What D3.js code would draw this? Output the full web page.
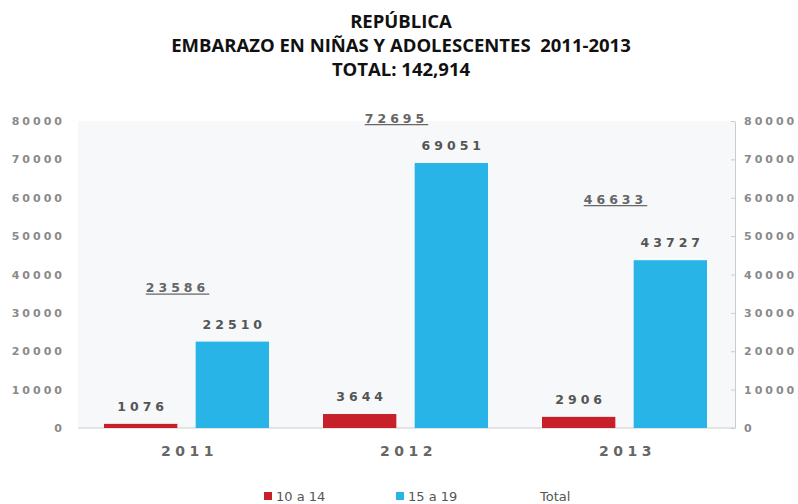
<!DOCTYPE html>
<html>
<head>
<meta charset="utf-8">
<script src="https://cdn.jsdelivr.net/npm/d3@7"></script>
<style>
  body { margin: 0; background: #fff; }
  svg { display: block; }
</style>
</head>
<body>
<svg width="798" height="504"></svg>
<script>
  var years = ['2011', '2012', '2013']
  var series = ['10 a 14', '15 a 19']
  var ninas = [1076, 3644, 2906]
  var adolescentes = [22510, 69051, 43727]
  var totals = [23586, 72695, 46633]
  var yTicks = [0, 10000, 20000, 30000, 40000, 50000, 60000, 70000, 80000]
  var titleLines = ['REPÚBLICA', 'EMBARAZO EN NIÑAS Y ADOLESCENTES  2011-2013', 'TOTAL: 142,914']
  var colors = ['#c8202a', '#29b4e8']

  var svg = d3.select('svg')
  var mLeft = 78
  var mRight = 735
  var mTop = 121
  var mBottom = 428

  var x = d3.scaleBand().domain(years).range([mLeft, mRight])
  var x1 = d3.scaleBand().domain(series).range([26, 191]).paddingInner(0.2)
  var y = d3.scaleLinear().domain([0, 80000]).range([mBottom, mTop])

  // plot background
  svg.append('rect')
    .attr('x', mLeft).attr('y', mTop)
    .attr('width', mRight - mLeft).attr('height', mBottom - mTop)
    .attr('fill', '#f7f8fa')

  // title
  svg.append('g').selectAll('text')
    .data(titleLines)
    .join('text')
    .attr('x', 401)
    .attr('y', (d, i) => 28 + i * 24)
    .attr('text-anchor', 'middle')
    .style('font-family', '"Open Sans", sans-serif')
    .style('font-weight', 'bold')
    .style('font-size', '18.5px')
    .style('fill', '#111')
    .style('white-space', 'pre')
    .text(d => d)

  var tickFont = function (g) {
    g.selectAll('text')
      .style('font-family', '"DejaVu Sans", sans-serif')
      .style('font-weight', 'bold')
      .style('font-size', '11px')
      .style('letter-spacing', '3px')
      .style('fill', '#8a8a8a')
  }

  // left axis (labels only)
  svg.append('g')
    .attr('transform', `translate(${mLeft},0)`)
    .call(d3.axisLeft(y).tickValues(yTicks).tickSize(0).tickPadding(13).tickFormat(d3.format('d')))
    .call(g => g.select('.domain').remove())
    .call(tickFont)

  // right axis
  svg.append('g')
    .attr('transform', `translate(${mRight},0)`)
    .call(d3.axisRight(y).tickValues(yTicks).tickSizeInner(-4).tickSizeOuter(0).tickPadding(9).tickFormat(d3.format('d')))
    .call(g => g.select('.domain').attr('stroke', '#ccc'))
    .call(g => g.selectAll('.tick line').attr('stroke', '#ccc'))
    .call(tickFont)

  // baseline
  svg.append('line')
    .attr('x1', mLeft).attr('x2', mRight)
    .attr('y1', y(0)).attr('y2', y(0))
    .attr('stroke', '#ccc')

  var rows = years.map((yr, i) => ({ year: yr, values: [ninas[i], adolescentes[i]], total: totals[i] }))

  var groups = svg.append('g').selectAll('g')
    .data(rows)
    .join('g')
    .attr('transform', d => `translate(${x(d.year)},0)`)

  groups.selectAll('rect')
    .data(d => d.values.map((v, j) => ({ key: series[j], value: v, color: colors[j] })))
    .join('rect')
    .attr('x', d => x1(d.key))
    .attr('width', x1.bandwidth())
    .attr('y', d => y(d.value))
    .attr('height', d => y(0) - y(d.value))
    .attr('fill', d => d.color)

  groups.selectAll('text.val')
    .data(d => d.values.map((v, j) => ({ key: series[j], value: v })))
    .join('text')
    .attr('class', 'val')
    .attr('x', d => x1(d.key) + x1.bandwidth() / 2 + 2)
    .attr('y', d => y(d.value) - 13)
    .attr('text-anchor', 'middle')
    .style('font-family', '"DejaVu Sans", sans-serif')
    .style('font-weight', 'bold')
    .style('font-size', '12.5px')
    .style('letter-spacing', '4px')
    .style('fill', '#555')
    .text(d => d.value)

  // totals, underlined
  groups.append('text')
    .attr('x', x.bandwidth() / 2 - 10)
    .attr('y', d => Math.max(y(d.total) - 45, 123))
    .attr('text-anchor', 'middle')
    .style('font-family', '"DejaVu Sans", sans-serif')
    .style('font-weight', 'bold')
    .style('font-size', '12.5px')
    .style('letter-spacing', '4px')
    .style('text-decoration', 'underline')
    .style('fill', '#666')
    .text(d => d.total)

  // category labels
  svg.append('g').selectAll('text')
    .data(years)
    .join('text')
    .attr('x', d => x(d) + x.bandwidth() / 2 + 2)
    .attr('y', 456)
    .attr('text-anchor', 'middle')
    .style('font-family', '"DejaVu Sans", sans-serif')
    .style('font-weight', 'bold')
    .style('font-size', '14px')
    .style('letter-spacing', '4.5px')
    .style('fill', '#666')
    .text(d => d)

  // legend
  var legendItems = [
    { label: series[0], color: colors[0], x: 264 },
    { label: series[1], color: colors[1], x: 396 },
    { label: 'Total', color: null, x: 528 }
  ]
  var lg = svg.append('g').selectAll('g')
    .data(legendItems)
    .join('g')
    .attr('transform', d => `translate(${d.x},496)`)
  lg.filter(d => d.color)
    .append('rect')
    .attr('x', 0).attr('y', -4)
    .attr('width', 8).attr('height', 8)
    .attr('fill', d => d.color)
  lg.append('text')
    .attr('x', 12)
    .attr('y', 5)
    .style('font-family', '"DejaVu Sans", sans-serif')
    .style('font-size', '13px')
    .style('fill', '#555')
    .text(d => d.label)
</script>
</body>
</html>
